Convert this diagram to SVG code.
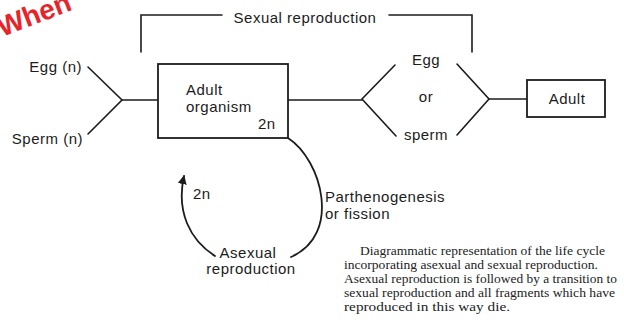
<svg xmlns="http://www.w3.org/2000/svg" width="624" height="320" viewBox="0 0 624 320">
<defs>
<style>
.ln{fill:none;stroke:#1c1c1c;stroke-width:1.6;stroke-linecap:round;stroke-linejoin:miter}
.bx{fill:#fff;stroke:#1c1c1c;stroke-width:1.8}
.t{font-family:"Liberation Sans",Arial,sans-serif;font-size:15px;fill:#1c1c1c;letter-spacing:0.5px}
.m{text-anchor:middle}
.e{text-anchor:end}
.cap{font-family:"Liberation Serif","Times New Roman",serif;font-size:13px;fill:#222}
.wm{font-family:"Liberation Sans",Arial,sans-serif;font-size:28px;font-weight:bold;fill:#e8232a}
</style>
<marker id="ah" viewBox="0 0 10 10" refX="9" refY="5" markerWidth="9" markerHeight="9" markerUnits="userSpaceOnUse" orient="auto">
<path d="M0,0 L10,5 L0,10 Z" fill="#1c1c1c"/>
</marker>
</defs>
<rect width="624" height="320" fill="#fff"/>
<text class="wm" transform="translate(2,37) rotate(-21)">When</text>

<g id="connectors">
<path class="ln" d="M141,52 V15 H222"/>
<path class="ln" d="M389,15 H472 V52"/>
<path class="ln" d="M88,67 L122,100 L88,134"/>
<path class="ln" d="M122,100 H158"/>
<path class="ln" d="M288,100 H362"/>
<path class="ln" d="M395,65 L362,99 L396,136"/>
<path class="ln" d="M457,64 L489,99 L457,135"/>
<path class="ln" d="M489,99 H527"/>
<path class="ln" d="M288,138 C322,160 342,235 291,257" style="stroke-width:1.8"/>
<path class="ln" d="M215,256 C190,240 176,212 184,176" style="stroke-width:1.8" marker-end="url(#ah)"/>
</g>

<g id="sexual-label"><text class="t m" x="305" y="23">Sexual reproduction</text></g>
<g id="egg-n"><text class="t e" x="82" y="72">Egg (n)</text></g>
<g id="sperm-n"><text class="t e" x="83" y="144">Sperm (n)</text></g>

<g id="adult-organism">
<rect class="bx" x="158" y="64" width="130" height="74"/>
<text class="t" x="186" y="95">Adult</text>
<text class="t" x="186" y="112">organism</text>
<text class="t" x="258" y="129">2n</text>
</g>

<g id="egg-or-sperm">
<text class="t m" x="426" y="65">Egg</text>
<text class="t m" x="426" y="102">or</text>
<text class="t m" x="426" y="140">sperm</text>
</g>

<g id="adult">
<rect class="bx" x="527" y="80" width="78" height="37"/>
<text class="t m" x="567" y="104">Adult</text>
</g>

<g id="parthenogenesis">
<text class="t" x="325" y="202">Parthenogenesis</text>
<text class="t" x="325" y="219">or fission</text>
</g>

<g id="asexual">
<text class="t" x="193" y="199">2n</text>
<text class="t m" x="248" y="258">Asexual</text>
<text class="t m" x="251" y="274">reproduction</text>
</g>

<g id="caption">
<text class="cap" x="360" y="255" textLength="245" lengthAdjust="spacingAndGlyphs">Diagrammatic representation of the life cycle</text>
<text class="cap" x="344" y="269" textLength="254" lengthAdjust="spacingAndGlyphs">incorporating asexual and sexual reproduction.</text>
<text class="cap" x="344" y="283" textLength="273" lengthAdjust="spacingAndGlyphs">Asexual reproduction is followed by a transition to</text>
<text class="cap" x="344" y="297" textLength="271" lengthAdjust="spacingAndGlyphs">sexual reproduction and all fragments which have</text>
<text class="cap" x="344" y="311" textLength="166" lengthAdjust="spacingAndGlyphs">reproduced in this way die.</text>
</g>
</svg>
